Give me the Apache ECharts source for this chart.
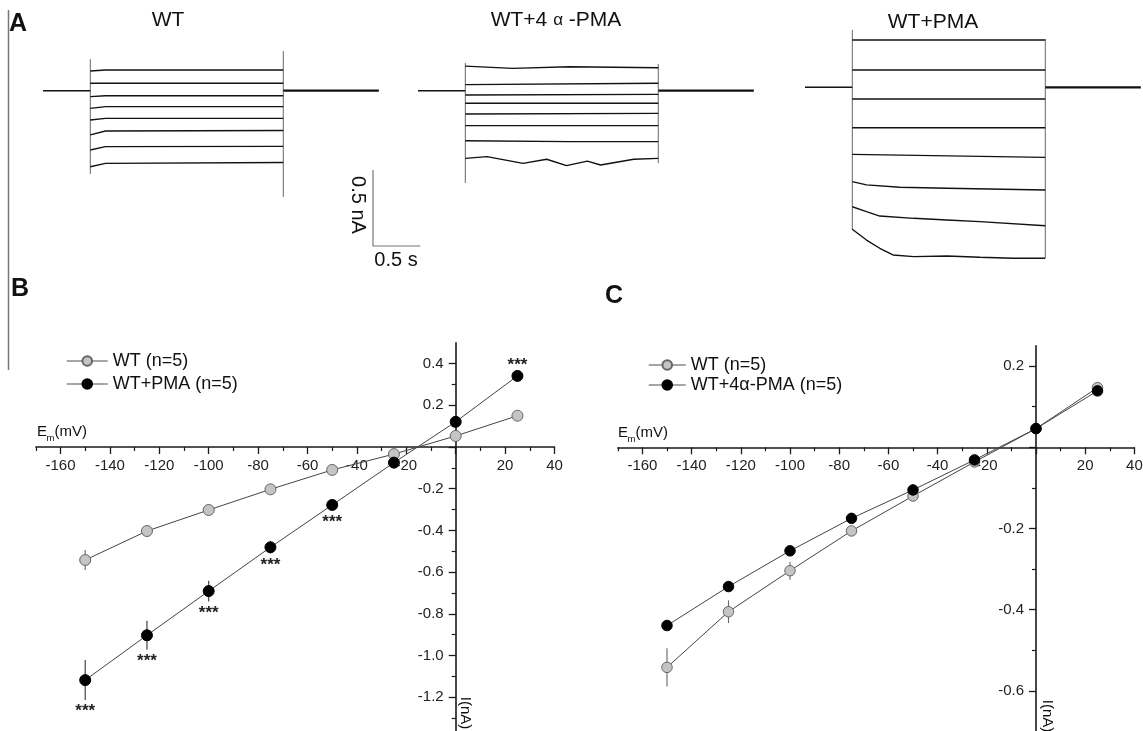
<!DOCTYPE html>
<html><head><meta charset="utf-8">
<script src="https://cdn.jsdelivr.net/npm/echarts@6/dist/echarts.min.js"></script>
<style>html,body{margin:0;padding:0;background:#fff}#c{width:1143px;height:731px}</style>
</head><body><div id="c"></div>
<script>
// ================= DATA =================
// Panel A: voltage-clamp current traces (time in s, current in nA relative to holding)
const pulseTimes = [0, 0.5, 2.54, 3.55];      // start, step on, step off, end
const wtSweeps = [
  [[0.5, 0.130], [0.66, 0.136], [2.54, 0.136]],
  [[0.5, 0.049], [2.54, 0.049]],
  [[0.5, -0.039], [0.66, -0.033], [2.54, -0.033]],
  [[0.5, -0.116], [0.66, -0.105], [2.54, -0.105]],
  [[0.5, -0.193], [0.66, -0.182], [2.54, -0.182]],
  [[0.5, -0.291], [0.66, -0.265], [2.54, -0.262]],
  [[0.5, -0.390], [0.66, -0.368], [2.54, -0.366]],
  [[0.5, -0.500], [0.66, -0.478], [2.54, -0.472]]
];
const fourSweeps = [
  [[0.5, 0.162], [1.0, 0.147], [1.6, 0.158], [2.54, 0.151]],
  [[0.5, 0.040], [2.54, 0.049]],
  [[0.5, -0.028], [2.54, -0.024]],
  [[0.5, -0.083], [2.54, -0.083]],
  [[0.5, -0.153], [2.54, -0.149]],
  [[0.5, -0.230], [2.54, -0.230]],
  [[0.5, -0.329], [1.6, -0.335], [2.54, -0.335]],
  [[0.5, -0.445], [0.73, -0.434], [1.11, -0.478], [1.36, -0.451], [1.57, -0.493], [1.79, -0.463], [1.93, -0.489], [2.28, -0.451], [2.54, -0.445]]
];
const pmaSweeps = [
  [[0.5, 0.311], [2.54, 0.311]],
  [[0.5, 0.114], [2.54, 0.114]],
  [[0.5, -0.077], [2.54, -0.077]],
  [[0.5, -0.266], [2.54, -0.266]],
  [[0.5, -0.441], [2.54, -0.461]],
  [[0.5, -0.621], [0.65, -0.642], [1.0, -0.658], [1.5, -0.664], [2.54, -0.676]],
  [[0.5, -0.786], [0.65, -0.818], [0.79, -0.847], [1.15, -0.862], [1.5, -0.873], [1.85, -0.884], [2.54, -0.911]],
  [[0.5, -0.934], [0.65, -1.005], [0.79, -1.059], [0.93, -1.103], [1.15, -1.114], [1.5, -1.110], [1.85, -1.118], [2.2, -1.125], [2.54, -1.125]]
];
// capacitive transient extents [top, bottom] at step on / off
const wtOnSpan = [0.208, -0.548], wtOffSpan = [0.261, -0.699];
const fourOnSpan = [0.182, -0.607], fourOffSpan = [0.176, -0.476];
const pmaOnSpan = [0.377, -0.939], pmaOffSpan = [0.318, -1.123];
// scale bar
const scaleBarNA = 0.5, scaleBarS = 0.5;

// Panels B & C: I-V relations
const voltages = [-150, -125, -100, -75, -50, -25, 0, 25];
const bWT = [-0.542, -0.403, -0.302, -0.203, -0.110, -0.034, 0.053, 0.150];
const bWTerr = [0.048, 0.020, 0.010, 0.008, 0.005, 0.004, 0.004, 0.004];
const bPMA = [-1.118, -0.903, -0.691, -0.481, -0.278, -0.075, 0.121, 0.341];
const bPMAerr = [0.096, 0.070, 0.050, 0.030, 0.010, 0.005, 0.005, 0.010];
const bSig = ['***', '***', '***', '***', '***', '', '', '***'];
const cWT = [-0.542, -0.405, -0.304, -0.206, -0.120, -0.036, 0.046, 0.147];
const cWTerr = [0.047, 0.028, 0.022, 0.010, 0.005, 0.004, 0.004, 0.004];
const c4a = [-0.439, -0.343, -0.255, -0.175, -0.105, -0.031, 0.046, 0.139];
const c4aErr = [0.004, 0.004, 0.004, 0.004, 0.004, 0.004, 0.004, 0.004];

// tick values / labels
const ivXMajor = [-160, -140, -120, -100, -80, -60, -40, -20, 0, 20, 40];
const ivXMinor = [-170, -150, -130, -110, -90, -70, -50, -30, -10, 10, 30];
const ivXLabels = [-160, -140, -120, -100, -80, -60, -40, -20, 20, 40];
const bYMajor = [-1.2, -1.0, -0.8, -0.6, -0.4, -0.2, 0, 0.2, 0.4];
const bYMinor = [-1.3, -1.1, -0.9, -0.7, -0.5, -0.3, -0.1, 0.1, 0.3];
const bYLabels = [-1.2, -1.0, -0.8, -0.6, -0.4, -0.2, 0.2, 0.4];
const cYMajor = [-0.6, -0.4, -0.2, 0, 0.2];
const cYMinor = [-0.5, -0.3, -0.1, 0.1];
const cYLabels = [-0.6, -0.4, -0.2, 0.2];

const legendB = ['WT (n=5)', 'WT+PMA (n=5)'];
const legendC = ['WT (n=5)', 'WT+4α-PMA (n=5)'];

// ================= LAYOUT / STYLE =================
const FF = '"Liberation Sans", Arial, sans-serif';
const PX_S = 94.6, PX_NA = 152;
const A_XR = [0, 3.55], A_YR = [-1.3, 0.45];
const aW = (A_XR[1] - A_XR[0]) * PX_S, aH = (A_YR[1] - A_YR[0]) * PX_NA;
const IVX = [-170, 40];
const B_YR = [-1.36, 0.5], C_YR = [-0.7, 0.25];
const bSx = 2.47, bSy = 208.5, bZero = [455.7, 447];
const cSx = 2.46, cSy = 406, cZero = [1036, 447.3];
const gB = { left: bZero[0] + IVX[0] * bSx, top: bZero[1] - B_YR[1] * bSy, width: (IVX[1] - IVX[0]) * bSx, height: (B_YR[1] - B_YR[0]) * bSy };
const gC = { left: cZero[0] + IVX[0] * cSx, top: cZero[1] - C_YR[1] * cSy, width: (IVX[1] - IVX[0]) * cSx, height: (C_YR[1] - C_YR[0]) * cSy };
const grids = [
  { left: 43, top: 90.7 - A_YR[1] * PX_NA, width: aW, height: aH },
  { left: 418, top: 90.7 - A_YR[1] * PX_NA, width: aW, height: aH },
  { left: 805, top: 87.3 - A_YR[1] * PX_NA, width: aW, height: aH },
  { left: 373, top: 170, width: scaleBarS * PX_S, height: scaleBarNA * PX_NA },
  gB, gC
].map(g => Object.assign({ containLabel: false, outerBoundsMode: 'none', show: false }, g));

// axis offsets so the axes cross at zero (offset from grid edge)
const bXOff = -((gB.top + gB.height) - bZero[1]), bYOff = -(bZero[0] - gB.left);
const cXOff = -((gC.top + gC.height) - cZero[1]), cYOff = -(cZero[0] - gC.left);

function hiddenAxis(gi, min, max) {
  return { type: 'value', gridIndex: gi, min, max, show: false, splitLine: { show: false } };
}
const axisCol = '#1a1a1a';
function majorX(gi, off) {
  return {
    type: 'value', gridIndex: gi, min: IVX[0], max: IVX[1], position: 'bottom', offset: off,
    axisLine: { onZero: false, lineStyle: { color: axisCol, width: 1.5 } },
    axisTick: { customValues: ivXMajor, length: 7, lineStyle: { color: axisCol, width: 1.3 } },
    axisLabel: { customValues: ivXLabels, margin: 11, fontSize: 15, color: '#222', fontFamily: FF },
    splitLine: { show: false }
  };
}
function minorX(gi, off) {
  return {
    type: 'value', gridIndex: gi, min: IVX[0], max: IVX[1], position: 'bottom', offset: off,
    axisLine: { show: false, onZero: false },
    axisTick: { customValues: ivXMinor, length: 4, lineStyle: { color: axisCol, width: 1.2 } },
    axisLabel: { show: false }, splitLine: { show: false }
  };
}
function majorY(gi, r, ticks, labels, off) {
  return {
    type: 'value', gridIndex: gi, min: r[0], max: r[1], position: 'left', offset: off,
    axisLine: { onZero: false, lineStyle: { color: axisCol, width: 1.6 } },
    axisTick: { customValues: ticks, length: 7, lineStyle: { color: axisCol, width: 1.3 } },
    axisLabel: { customValues: labels, margin: 12, fontSize: 15, color: '#222', fontFamily: FF,
      formatter: v => (Math.round(v * 10) / 10).toFixed(1) },
    splitLine: { show: false }
  };
}
function minorY(gi, r, ticks, off) {
  return {
    type: 'value', gridIndex: gi, min: r[0], max: r[1], position: 'left', offset: off,
    axisLine: { show: false, onZero: false },
    axisTick: { customValues: ticks, length: 4, lineStyle: { color: axisCol, width: 1.2 } },
    axisLabel: { show: false }, splitLine: { show: false }
  };
}

const xAxes = [
  hiddenAxis(0, A_XR[0], A_XR[1]), hiddenAxis(1, A_XR[0], A_XR[1]), hiddenAxis(2, A_XR[0], A_XR[1]),
  hiddenAxis(3, 0, scaleBarS),
  majorX(4, bXOff), minorX(4, bXOff),
  majorX(5, cXOff), minorX(5, cXOff)
];
const yAxes = [
  hiddenAxis(0, A_YR[0], A_YR[1]), hiddenAxis(1, A_YR[0], A_YR[1]), hiddenAxis(2, A_YR[0], A_YR[1]),
  hiddenAxis(3, 0, scaleBarNA),
  majorY(4, B_YR, bYMajor, bYLabels, bYOff), minorY(4, B_YR, bYMinor, bYOff),
  majorY(5, C_YR, cYMajor, cYLabels, cYOff), minorY(5, C_YR, cYMinor, cYOff)
];

const series = [];
function lineS(ax, data, color, width, z) {
  series.push({ type: 'line', xAxisIndex: ax, yAxisIndex: ax, data, showSymbol: false, symbol: 'none',
    lineStyle: { color, width }, silent: true, z: z || 2, clip: false });
}
[[wtSweeps, wtOnSpan, wtOffSpan], [fourSweeps, fourOnSpan, fourOffSpan], [pmaSweeps, pmaOnSpan, pmaOffSpan]]
  .forEach(([sw, on, off], i) => {
    lineS(i, [[pulseTimes[0], 0], [pulseTimes[1], 0]], '#111', 1.6);
    lineS(i, [[pulseTimes[2], 0], [pulseTimes[3], 0]], '#111', 2.2);
    lineS(i, [[pulseTimes[1], on[0]], [pulseTimes[1], on[1]]], '#666', 1, 1);
    lineS(i, [[pulseTimes[2], off[0]], [pulseTimes[2], off[1]]], '#666', 1, 1);
    sw.forEach(s => lineS(i, s, '#111', 1.4));
  });
// scale bar
lineS(3, [[0, scaleBarNA], [0, 0], [scaleBarS, 0]], '#777', 1.2);

function errBars(ax, ys, errs, color) {
  series.push({
    type: 'custom', xAxisIndex: ax, yAxisIndex: ax, z: 1, silent: true,
    data: voltages.map((v, i) => [v, ys[i], errs[i]]),
    renderItem: (p, api) => {
      const x = api.value(0), y = api.value(1), e = api.value(2);
      const a = api.coord([x, y + e]), b = api.coord([x, y - e]);
      return { type: 'line', shape: { x1: a[0], y1: a[1], x2: b[0], y2: b[1] }, style: { stroke: color, lineWidth: 1.1 } };
    }
  });
}
function ivLine(ax, name, ys, fill, border, size) {
  series.push({
    type: 'line', name, xAxisIndex: ax, yAxisIndex: ax, z: 3,
    data: voltages.map((v, i) => [v, ys[i]]),
    symbol: 'circle', symbolSize: size, showSymbol: true,
    lineStyle: { color: '#444', width: 1 },
    itemStyle: { color: fill, borderColor: border, borderWidth: 1 }
  });
}
// B
errBars(4, bWT, bWTerr, '#666');
errBars(4, bPMA, bPMAerr, '#333');
ivLine(4, 'WT (n=5)', bWT, '#c4c4c4', '#666', 11);
ivLine(4, 'WT+PMA (n=5)', bPMA, '#000', '#000', 11);
series.push({
  type: 'custom', xAxisIndex: 4, yAxisIndex: 4, z: 4, silent: true,
  data: voltages.map((v, i) => [v, bPMA[i], bPMAerr[i]]),
  renderItem: (p, api) => {
    const s = bSig[p.dataIndex];
    if (!s) return null;
    const x = api.value(0), y = api.value(1), e = api.value(2);
    const c = api.coord([x, y]);
    let ty;
    if (y < 0) {
      const eb = api.coord([x, y - e])[1];
      ty = Math.max(eb, c[1] + 5.5) + 3;
    } else {
      const et = api.coord([x, y + e])[1];
      ty = Math.min(et, c[1] - 5.5) - 14;
    }
    return { type: 'text', style: { text: s, x: c[0], y: ty, align: 'center', verticalAlign: 'top',
      fontSize: 17, fontWeight: 'bold', fontFamily: FF, fill: '#222' } };
  }
});
// C
errBars(6, cWT, cWTerr, '#666');
errBars(6, c4a, c4aErr, '#333');
ivLine(6, 'WT (n=5)', cWT, '#c4c4c4', '#666', 10.5);
ivLine(6, 'WT+4α-PMA (n=5)', c4a, '#000', '#000', 10.5);

function txt(x, y, text, size, extra) {
  return Object.assign({ type: 'text', x, y, silent: true,
    style: Object.assign({ text, fontSize: size, fontFamily: FF, fill: '#111', align: 'center', verticalAlign: 'middle' }, (extra && extra.style) || {}) },
    extra && extra.rotation !== undefined ? { rotation: extra.rotation } : {});
}
const graphics = [
  { type: 'line', silent: true, shape: { x1: 8.5, y1: 10, x2: 8.5, y2: 370 }, style: { stroke: '#777', lineWidth: 1.5 } },
  txt(9, 24.5, 'A', 25, { style: { fontWeight: 'bold', align: 'left' } }),
  txt(11, 289.5, 'B', 25, { style: { fontWeight: 'bold', align: 'left' } }),
  txt(605, 296, 'C', 25, { style: { fontWeight: 'bold', align: 'left' } }),
  txt(168, 20.3, 'WT', 21),
  txt(556, 20.3, 'WT+4 {a|α} -PMA', 21, { style: { rich: { a: { fontSize: 17, fontFamily: FF, fill: '#111' } } } }),
  txt(933, 22, 'WT+PMA', 21),
  txt(357.5, 205, '0.5 nA', 20, { rotation: -Math.PI / 2 }),
  txt(396, 260.5, '0.5 s', 20),
  // B axis names
  txt(37, 432.2, 'E', 15, { style: { align: 'left' } }),
  txt(46.5, 438.6, 'm', 9.5, { style: { align: 'left' } }),
  txt(54.5, 432.2, '(mV)', 15, { style: { align: 'left' } }),
  txt(465.5, 713, 'I(nA)', 15, { rotation: -Math.PI / 2 }),
  // C axis names
  txt(618, 433, 'E', 15, { style: { align: 'left' } }),
  txt(627.5, 439.4, 'm', 9.5, { style: { align: 'left' } }),
  txt(635.5, 433, '(mV)', 15, { style: { align: 'left' } }),
  txt(1047, 716, 'I(nA)', 15, { rotation: -Math.PI / 2 })
];

const legendCommon = {
  orient: 'vertical', itemHeight: 12, selectedMode: false,
  textStyle: { fontSize: 18, color: '#111', fontFamily: FF, lineHeight: 20 },
  lineStyle: { color: '#888', width: 1.5 }
};

const chart = echarts.init(document.getElementById('c'), null, { renderer: 'canvas' });
chart.setOption({
  animation: false,
  backgroundColor: '#fff',
  grid: grids,
  xAxis: xAxes,
  yAxis: yAxes,
  legend: [
    Object.assign({}, legendCommon, { left: 61, top: 346, itemWidth: 41, itemGap: 3, data: legendB }),
    Object.assign({}, legendCommon, { left: 643, top: 350, itemWidth: 37, itemGap: 0, data: legendC })
  ],
  graphic: graphics,
  series
});
</script></body></html>
